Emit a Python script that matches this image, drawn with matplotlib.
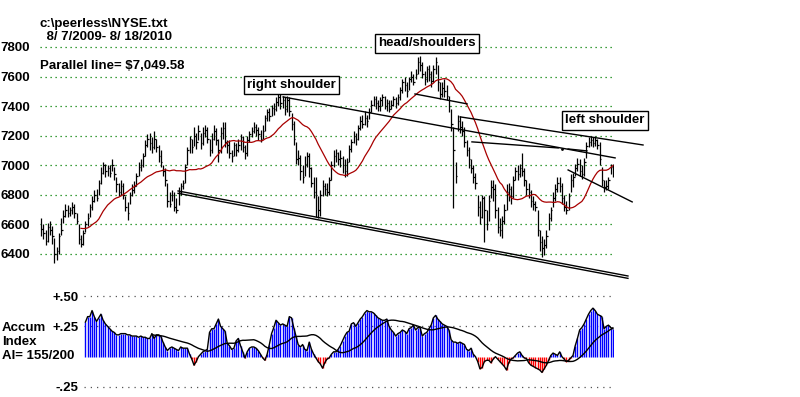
import numpy as np
import pandas as pd
import matplotlib
matplotlib.use("Agg")
import matplotlib.pyplot as plt

plt.rcParams['font.family'] = ['Liberation Sans', 'DejaVu Sans']
plt.rcParams['font.weight'] = 'bold'

# NYSE daily bars, 8/7/2009 - 8/18/2010
closes = [6570, 6540, 6490, 6580, 6560, 6520, 6400, 6420, 6520,
          6560, 6660, 6700, 6680, 6700, 6720, 6680, 6620, 6500,
          6470, 6540, 6600, 6640, 6720, 6760, 6800, 6780, 6880,
          6950, 7000, 6960, 6980, 6950, 7000, 6940, 6870, 6820,
          6860, 6800, 6720, 6680, 6800, 6830, 6860, 6930, 6990,
          7000, 7060, 7140, 7180, 7150, 7120, 7180, 7120, 7060,
          7020, 6960, 6900, 6760, 6740, 6800, 6720, 6700, 6820,
          6860, 6880, 6990, 7100, 7180, 7120, 7200, 7160, 7230,
          7150, 7220, 7240, 7180, 7100, 7180, 7230, 7170, 7100,
          7220, 7250, 7160, 7140, 7080, 7060, 7140, 7100, 7140,
          7190, 7120, 7080, 7170, 7210, 7230, 7260, 7240, 7210,
          7180, 7230, 7320, 7360, 7330, 7390, 7380, 7430, 7460,
          7420, 7440, 7380, 7440, 7370, 7280, 7180, 7040, 7050,
          6960, 6920, 7010, 7060, 6980, 6880, 6820, 6800, 6700,
          6800, 6860, 6840, 6820, 6900, 7000, 7060, 7080, 7040,
          7050, 7000, 6960, 7020, 7110, 7160, 7200, 7180, 7250,
          7300, 7280, 7320, 7300, 7360, 7410, 7450, 7420, 7400,
          7440, 7460, 7400, 7420, 7380, 7410, 7450, 7420, 7460,
          7510, 7560, 7540, 7500, 7580, 7600, 7560, 7620, 7700,
          7680, 7620, 7580, 7650, 7620, 7570, 7650, 7700, 7560,
          7480, 7520, 7500, 7470, 7400, 7280, 7100, 6930, 7300,
          7260, 7230, 7160, 7100, 7040, 6980, 6920, 6880, 6720,
          6650, 6780, 6700, 6600, 6760, 6850, 6840, 6700, 6580,
          6560, 6620, 6700, 6820, 6840, 6790, 6900, 6960, 6940,
          6980, 6960, 6900, 6840, 6820, 6760, 6740, 6720, 6560,
          6480, 6440, 6460, 6520, 6640, 6700, 6780, 6840, 6880,
          6860, 6780, 6720, 6700, 6790, 6900, 6920, 6980, 7010,
          6960, 6940, 7020, 7130, 7160, 7170, 7150, 7170, 7140,
          7040, 6900, 6850, 6860, 6900, 6990, 6960]

highs = [6640, 6600, 6560, 6610, 6620, 6590, 6510, 6450, 6540,
         6640, 6700, 6740, 6730, 6720, 6750, 6740, 6680, 6600,
         6530, 6560, 6620, 6680, 6740, 6790, 6830, 6840, 6900,
         6990, 7020, 7010, 7000, 7000, 7040, 6990, 6920, 6880,
         6900, 6880, 6790, 6750, 6820, 6870, 6890, 6950, 7020,
         7040, 7080, 7170, 7210, 7220, 7190, 7230, 7180, 7140,
         7100, 7000, 6980, 6880, 6820, 6830, 6820, 6780, 6850,
         6880, 6900, 7010, 7120, 7200, 7180, 7260, 7220, 7270,
         7220, 7260, 7270, 7260, 7180, 7220, 7270, 7250, 7180,
         7260, 7290, 7290, 7170, 7170, 7100, 7160, 7150, 7180,
         7210, 7200, 7140, 7200, 7230, 7260, 7290, 7280, 7260,
         7240, 7270, 7340, 7380, 7390, 7410, 7420, 7460, 7490,
         7480, 7470, 7460, 7470, 7460, 7350, 7300, 7160, 7100,
         7070, 7000, 7060, 7090, 7080, 6990, 6920, 6920, 6790,
         6830, 6900, 6880, 6880, 6920, 7030, 7100, 7110, 7090,
         7100, 7060, 7040, 7050, 7140, 7180, 7230, 7220, 7270,
         7330, 7340, 7370, 7340, 7390, 7440, 7470, 7470, 7440,
         7460, 7480, 7470, 7450, 7440, 7440, 7470, 7460, 7480,
         7530, 7580, 7600, 7560, 7600, 7640, 7620, 7650, 7730,
         7740, 7700, 7640, 7670, 7680, 7640, 7680, 7730, 7680,
         7560, 7560, 7580, 7540, 7470, 7380, 7260, 7020, 7340,
         7330, 7300, 7260, 7170, 7120, 7040, 7000, 6950, 6800,
         6760, 6800, 6790, 6700, 6800, 6900, 6900, 6870, 6720,
         6640, 6660, 6740, 6870, 6880, 6860, 6930, 6990, 7000,
         7010, 7080, 6980, 6900, 6880, 6830, 6790, 6760, 6700,
         6560, 6520, 6500, 6560, 6680, 6720, 6820, 6870, 6920,
         6920, 6880, 6800, 6760, 6810, 6940, 6950, 7010, 7050,
         7040, 7000, 7050, 7160, 7190, 7200, 7190, 7200, 7180,
         7160, 6990, 6900, 6900, 6920, 7010, 7010]

lows = [6520, 6500, 6460, 6480, 6530, 6470, 6340, 6360, 6400,
        6530, 6610, 6650, 6650, 6660, 6670, 6640, 6600, 6470,
        6450, 6460, 6550, 6590, 6650, 6700, 6750, 6760, 6800,
        6870, 6940, 6920, 6930, 6920, 6960, 6900, 6820, 6790,
        6800, 6770, 6690, 6630, 6740, 6790, 6810, 6860, 6930,
        6960, 6990, 7060, 7120, 7100, 7080, 7110, 7090, 7020,
        6990, 6930, 6860, 6720, 6720, 6760, 6690, 6680, 6730,
        6800, 6840, 6880, 7000, 7080, 7080, 7130, 7110, 7170,
        7110, 7140, 7190, 7150, 7060, 7080, 7170, 7140, 7020,
        7080, 7180, 7120, 7080, 7050, 7020, 7060, 7060, 7090,
        7100, 7090, 7040, 7060, 7160, 7190, 7220, 7200, 7170,
        7160, 7180, 7230, 7300, 7300, 7330, 7340, 7370, 7400,
        7380, 7390, 7340, 7360, 7330, 7240, 7140, 7010, 7000,
        6900, 6880, 6930, 6990, 6920, 6850, 6780, 6650, 6640,
        6660, 6790, 6800, 6790, 6800, 6900, 6990, 7020, 7000,
        6990, 6950, 6920, 6930, 7020, 7090, 7150, 7140, 7170,
        7240, 7250, 7270, 7260, 7310, 7360, 7400, 7380, 7370,
        7370, 7400, 7380, 7370, 7360, 7380, 7400, 7390, 7410,
        7440, 7490, 7500, 7460, 7510, 7560, 7540, 7580, 7620,
        7640, 7590, 7540, 7560, 7570, 7530, 7560, 7620, 7500,
        7450, 7460, 7460, 7440, 7360, 7230, 6710, 6880, 7230,
        7220, 7200, 7120, 7060, 6980, 6950, 6880, 6840, 6660,
        6600, 6640, 6480, 6560, 6620, 6780, 6760, 6640, 6540,
        6520, 6510, 6600, 6700, 6760, 6740, 6780, 6900, 6900,
        6920, 6930, 6860, 6800, 6780, 6720, 6700, 6690, 6520,
        6420, 6380, 6390, 6440, 6560, 6620, 6720, 6760, 6820,
        6820, 6740, 6690, 6670, 6700, 6820, 6850, 6930, 6960,
        6930, 6910, 6930, 7050, 7120, 7130, 7120, 7130, 7110,
        7000, 6860, 6820, 6830, 6840, 6940, 6920]

# Accumulation index, starts at bar 20
ai_start = 20
accum = [0.285, 0.33, 0.33, 0.38, 0.33, 0.29, 0.32, 0.35, 0.30, 0.27,
         0.25, 0.23, 0.21, 0.20, 0.18, 0.18, 0.19, 0.19, 0.19, 0.18,
         0.18, 0.17, 0.17, 0.17, 0.16, 0.17, 0.16, 0.16, 0.15, 0.15,
         0.19, 0.15, 0.18, 0.18, 0.17, 0.12, 0.08, 0.05, 0.07, 0.08,
         0.07, 0.06, 0.05, 0.08, 0.07, 0.07, 0.07, 0.02, -0.02, -0.07,
         -0.04, 0.0, 0.02, 0.04, 0.05, 0.06, 0.20, 0.23, 0.23, 0.27,
         0.31, 0.25, 0.23, 0.21, 0.11, 0.09, 0.06, 0.07, 0.13, 0.15,
         0.09, 0.04, -0.01, 0.04, 0.07, 0.08, 0.08, 0.07, 0.05, 0.02,
         -0.01, -0.03, 0.02, 0.10, 0.19, 0.24, 0.30, 0.28, 0.26, 0.27,
         0.26, 0.25, 0.33, 0.32, 0.24, 0.17, 0.10, 0.08, 0.10, 0.06,
         0.05, 0.12, 0.06, 0.02, -0.01, -0.04, -0.06, -0.095, -0.05, -0.02,
         -0.01, 0.02, 0.04, 0.04, 0.06, 0.09, 0.13, 0.17, 0.20, 0.21,
         0.27, 0.28, 0.25, 0.28, 0.31, 0.33, 0.36, 0.38, 0.37, 0.37,
         0.36, 0.34, 0.32, 0.31, 0.30, 0.30, 0.31, 0.25, 0.22, 0.20,
         0.17, 0.19, 0.20, 0.22, 0.21, 0.19, 0.23, 0.24, 0.26, 0.22,
         0.24, 0.24, 0.17, 0.19, 0.20, 0.23, 0.26, 0.32, 0.34, 0.31,
         0.29, 0.27, 0.26, 0.25, 0.22, 0.14, 0.12, 0.12, 0.11, 0.12,
         0.11, 0.10, 0.06, 0.05, 0.07, 0.02, 0.0, -0.04, -0.10, -0.09,
         -0.04, -0.03, -0.03, -0.05, -0.02, 0.0, -0.02, -0.04, -0.06, -0.08,
         -0.11, -0.05, -0.02, -0.01, 0.01, 0.03, 0.04, 0.01, -0.01, -0.015,
         -0.05, -0.07, -0.08, -0.09, -0.10, -0.11, -0.13, -0.10, -0.07, -0.03,
         0.01, 0.03, 0.02, 0.01, 0.04, 0.0, -0.02, -0.04, -0.03, -0.01,
         0.01, 0.09, 0.15, 0.22, 0.24, 0.27, 0.31, 0.35, 0.38, 0.40,
         0.38, 0.35, 0.34, 0.33, 0.23, 0.25, 0.26, 0.24, 0.23]

price_ticks = [6400, 6600, 6800, 7000, 7200, 7400, 7600, 7800]
ai_ticks = [0.50, 0.25, -0.25]
ai_tick_labels = ['+.50', '+.25', '-.25']

# trend lines: (bar, price) -> (bar, price)
trend_i0 = [61.8, 61.8, 109.2, 189.1, 168.7, 194.4, 237.8, 237.8]
trend_p0 = [6826, 6810, 7462, 7327, 7482, 7158, 7110, 6968]
trend_i1 = [264.8, 264.8, 259.0, 271.6, 192.2, 233.3, 246.3, 266.7]
trend_p1 = [6251, 6235, 7049.58, 7137, 7415, 7117, 7097, 6752]
neck_dot = (235.0, 7110)

labels = ['head/shoulders', 'right shoulder', 'left shoulder']
label_i = [174.0, 113.0, 254.3]
label_p = [7824, 7543, 7303]

W, H = 800, 397
fig = plt.figure(figsize=(8, 3.97), dpi=100)


def box(l, t, r, b):
    return [l / W, 1 - b / H, (r - l) / W, (b - t) / H]


# ---- price panel ----
ax = fig.add_axes(box(40, 40, 614, 285))
x = np.arange(len(closes))
ax.set_xlim(-0.5, 258.5)
ax.set_ylim(6190, 7847)
ax.set_yticks(price_ticks)
ax.set_xticks([])
ax.yaxis.grid(True, color='#008000', linestyle=(0, (1, 3)), lw=0.9)
ax.tick_params(axis='y', length=0, pad=7, labelsize=9.5)
for s in ax.spines.values():
    s.set_visible(False)

ax.vlines(x, lows, highs, color='black', lw=0.9)
ax.hlines(closes, x, x + 0.7, color='black', lw=0.9)
ma = pd.Series(closes).rolling(21, min_periods=19).mean()
ax.plot(x, ma, color='#a80000', lw=0.9)

for a, b, c, d in zip(trend_i0, trend_p0, trend_i1, trend_p1):
    ax.plot([a, c], [b, d], color='black', lw=1, clip_on=False)
ax.plot(*neck_dot, 'k.', ms=2)

for t, i, p in zip(labels, label_i, label_p):
    ax.text(i, p, t, ha='center', va='center', fontsize=9.5, fontweight='bold',
            bbox=dict(boxstyle='square,pad=0.25', fc='white', ec='black', lw=1),
            clip_on=False, zorder=5)

# ---- accumulation index panel ----
ax2 = fig.add_axes(box(84.3, 290, 614, 395))
ai = np.array(accum)
ai_x = np.arange(ai_start, ai_start + len(ai))
ax2.set_xlim(19.5, 258.5)
ax2.set_ylim(-0.316, 0.5495)
ax2.set_yticks(ai_ticks)
ax2.set_yticklabels(ai_tick_labels)
ax2.set_xticks([])
ax2.yaxis.grid(True, color='#555555', linestyle=(0, (1, 4)), lw=0.9)
ax2.tick_params(axis='y', length=0, pad=4, labelsize=9.5)
for s in ax2.spines.values():
    s.set_visible(False)

ax2.vlines(ai_x, 0, ai, colors=np.where(ai >= 0, '#0000ff', '#ff0000'), lw=1)
ax2.plot(ai_x, ai, color='black', lw=1)
ai_ma = pd.Series(ai).rolling(21).mean()
ax2.plot(ai_x[30:], ai_ma[30:], color='black', lw=1)

# ---- header / side texts ----
def ftext(px, py, s):
    fig.text(px / W, 1 - py / H, s, ha='left', va='center', fontsize=9.5, fontweight='bold')


ftext(40, 24, 'c:\\peerless\\NYSE.txt')
ftext(43, 37, ' 8/ 7/2009- 8/ 18/2010')
ftext(40, 66, 'Parallel line= $7,049.58')
ftext(2, 328, 'Accum')
ftext(2, 342, 'Index')
ftext(2, 356, 'AI= 155/200')

fig.savefig('out.png', dpi=100)
